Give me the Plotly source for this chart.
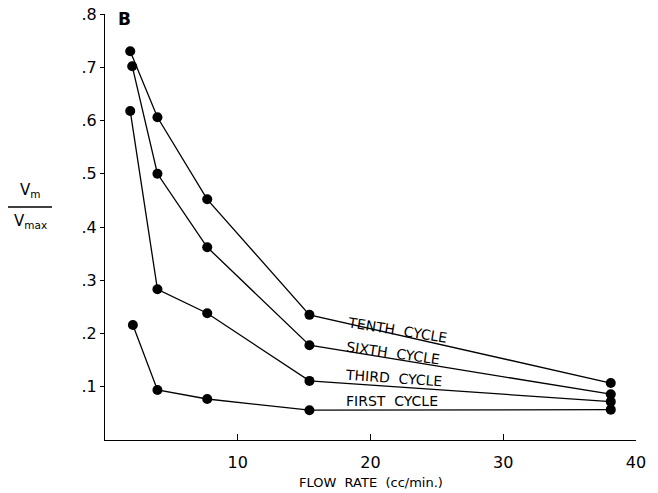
import plotly.graph_objects as go

flow = [1.9, 3.95, 7.7, 15.4, 38.1]
tenth = [0.730, 0.606, 0.452, 0.235, 0.107]
sixth = [0.702, 0.500, 0.362, 0.178, 0.086]
third = [0.618, 0.283, 0.238, 0.111, 0.072]
first = [0.216, 0.094, 0.077, 0.056, 0.057]
first_x = [2.1, 3.95, 7.7, 15.4, 38.1]
sixth_x = [2.05, 3.95, 7.7, 15.4, 38.1]

series = [("TENTH CYCLE", flow, tenth), ("SIXTH CYCLE", sixth_x, sixth),
          ("THIRD CYCLE", flow, third), ("FIRST CYCLE", first_x, first)]

xticks = [10, 20, 30, 40]
yticks = [0.1, 0.2, 0.3, 0.4, 0.5, 0.6, 0.7, 0.8]
yticktext = [".1", ".2", ".3", ".4", ".5", ".6", ".7", ".8"]

H_plot = 493 - 14 - 53
W_plot = 658 - 105 - 22


def px(x):
    return (x - 105) / W_plot


def py(y):
    return (493 - 53 - y) / H_plot


fig = go.Figure()
for name, xs, ys in series:
    fig.add_trace(go.Scatter(x=xs, y=ys, mode="lines+markers", name=name,
                             line=dict(color="black", width=1.3),
                             marker=dict(color="black", size=10)))

labels = [("TENTH  CYCLE", 22.0, 0.206, 9), ("SIXTH  CYCLE", 21.7, 0.163, 8),
          ("THIRD  CYCLE", 21.7, 0.116, 4), ("FIRST  CYCLE", 21.6, 0.074, 0)]
for text, x, y, ang in labels:
    fig.add_annotation(x=x, y=y, text=text, showarrow=False, textangle=ang,
                       font=dict(family="DejaVu Sans", size=14, color="black"))

fig.add_annotation(x=px(116), y=py(7), xref="paper", yref="paper", text="<b>B</b>",
                   showarrow=False, xanchor="left", yanchor="top",
                   font=dict(family="DejaVu Sans", size=17, color="black"))

fig.add_annotation(x=px(30), y=py(190), xref="paper", yref="paper", text="V<sub>m</sub>",
                   showarrow=False, xanchor="center", yanchor="middle",
                   font=dict(family="DejaVu Sans", size=15, color="black"))
fig.add_annotation(x=px(30), y=py(221), xref="paper", yref="paper", text="V<sub>max</sub>",
                   showarrow=False, xanchor="center", yanchor="middle",
                   font=dict(family="DejaVu Sans", size=15, color="black"))
fig.add_shape(type="line", xref="paper", yref="paper", x0=px(8), x1=px(52),
              y0=py(207), y1=py(207), line=dict(color="black", width=1.3))

fig.add_annotation(x=px(371), y=py(482), xref="paper", yref="paper",
                   text="FLOW  RATE  (cc/min.)", showarrow=False,
                   xanchor="center", yanchor="middle",
                   font=dict(family="DejaVu Sans", size=13, color="black"))

fig.update_layout(
    width=658, height=493,
    margin=dict(l=105, r=22, t=14, b=53, autoexpand=False),
    paper_bgcolor="white", plot_bgcolor="white",
    showlegend=False,
    xaxis=dict(range=[0, 40], tickvals=xticks, ticks="inside", ticklen=6,
               tickcolor="black", showline=True, linecolor="black", linewidth=1.3,
               showgrid=False, zeroline=False, ticklabelstandoff=8, automargin=False,
               tickfont=dict(family="DejaVu Sans", size=16, color="black")),
    yaxis=dict(range=[0, 0.8], tickvals=yticks, ticktext=yticktext, ticks="outside",
               ticklen=4, tickcolor="black", showline=True, linecolor="black",
               linewidth=1.3, showgrid=False, zeroline=False, automargin=False,
               tickfont=dict(family="DejaVu Sans", size=16, color="black")),
)

fig.write_html("out.html")
